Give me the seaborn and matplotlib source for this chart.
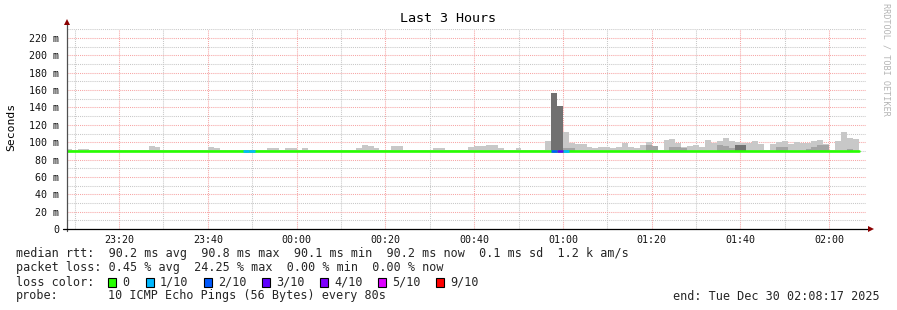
import numpy as np
import pandas as pd
import matplotlib
matplotlib.use("Agg")
import matplotlib.pyplot as plt
import matplotlib.dates as mdates
from matplotlib.ticker import FixedLocator, FuncFormatter
from matplotlib.patches import Rectangle
import seaborn as sns

# ---------------- data ----------------
bin_start = "2025-12-29 23:08:00"
step_seconds = 80
view_start = "2025-12-29 23:08:17"
view_end = "2025-12-30 02:08:17"
smoke_floor = 90.0  # ms

# light smoke top (max of pings) per 80 s bin, ms
smoke_max = [
    92.5, 90.8, 92.7, 92.7, 90.8, 90.8, 90.8, 90.8, 90.8, 90.8,
    90.8, 90.8, 90.8, 90.8, 95.6, 94.5, 90.8, 90.8, 90.8, 90.8,
    90.8, 90.8, 90.8, 90.8, 94.5, 93.0, 90.8, 90.8, 90.8, 90.8,
    90.8, 90.8, 90.8, 90.8, 93.0, 93.0, 90.8, 93.0, 93.0, 90.8,
    93.0, 90.8, 90.8, 90.8, 90.8, 90.8, 90.8, 90.8, 90.8, 93.0,
    96.8, 95.6, 93.0, 90.8, 90.8, 95.6, 95.6, 90.8, 90.8, 90.8,
    90.8, 90.8, 93.0, 93.0, 90.8, 90.8, 90.8, 90.8, 94.5, 95.6,
    95.6, 97.0, 97.0, 93.0, 90.8, 90.8, 93.0, 90.8, 90.8, 90.8,
    90.8, 101.4, 156.7, 141.7, 111.8, 99.0, 97.6, 97.6, 94.5, 93.0,
    94.5, 94.5, 93.0, 94.5, 99.0, 94.5, 93.0, 96.8, 100.0, 95.6,
    90.8, 102.5, 103.7, 99.0, 94.5, 96.0, 97.0, 94.5, 102.5, 99.0,
    101.0, 104.8, 101.0, 100.0, 99.0, 99.0, 101.0, 97.6, 90.8, 97.6,
    100.0, 101.0, 97.6, 100.0, 99.0, 99.0, 101.0, 102.5, 97.6, 90.8,
    101.0, 111.8, 104.8, 103.7,
]

# medium smoke top, ms (None = no medium smoke)
smoke_mid = [
    None, None, None, None, None, None, None, None, None, None,
    None, None, None, None, None, None, None, None, None, None,
    None, None, None, None, None, None, None, None, None, None,
    None, None, None, None, None, None, None, None, None, None,
    None, None, None, None, None, None, None, None, None, None,
    None, None, None, None, None, None, None, None, None, None,
    None, None, None, None, None, None, None, None, None, None,
    None, None, None, None, None, None, None, None, None, None,
    None, None, None, None, 93.0, 93.0, None, None, None, None,
    None, None, None, None, None, None, None, None, 96.8, 95.6,
    None, None, 94.0, 94.5, 93.0, None, None, None, None, None,
    96.5, 95.6, 93.0, None, None, None, None, None, None, None,
    94.0, 94.0, None, None, None, 92.5, 94.0, 96.5, 96.5, None,
    None, None, 92.5, None,
]

# dark smoke top, ms
smoke_dark = [
    None, None, None, None, None, None, None, None, None, None,
    None, None, None, None, None, None, None, None, None, None,
    None, None, None, None, None, None, None, None, None, None,
    None, None, None, None, None, None, None, None, None, None,
    None, None, None, None, None, None, None, None, None, None,
    None, None, None, None, None, None, None, None, None, None,
    None, None, None, None, None, None, None, None, None, None,
    None, None, None, None, None, None, None, None, None, None,
    None, None, 156.7, 141.7, None, None, None, None, None, None,
    None, None, None, None, None, None, None, None, None, None,
    None, None, None, None, None, None, None, None, None, None,
    None, None, None, 96.4, 96.4, None, None, None, None, None,
    None, None, None, None, None, None, None, None, None, None,
    None, None, None, None,
]

median_ms = [
    90.2, 90.2, 90.2, 90.2, 90.2, 90.2, 90.2, 90.2, 90.2, 90.2,
    90.2, 90.2, 90.2, 90.2, 90.2, 90.2, 90.2, 90.2, 90.2, 90.2,
    90.2, 90.2, 90.2, 90.2, 90.2, 90.2, 90.2, 90.2, 90.2, 90.2,
    90.2, 90.2, 90.2, 90.2, 90.2, 90.2, 90.2, 90.2, 90.2, 90.2,
    90.2, 90.2, 90.2, 90.2, 90.2, 90.2, 90.2, 90.2, 90.2, 90.2,
    90.2, 90.2, 90.2, 90.2, 90.2, 90.2, 90.2, 90.2, 90.2, 90.2,
    90.2, 90.2, 90.2, 90.2, 90.2, 90.2, 90.2, 90.2, 90.2, 90.2,
    90.2, 90.2, 90.2, 90.2, 90.2, 90.2, 90.2, 90.2, 90.2, 90.2,
    90.2, 90.2, 90.2, 90.2, 90.2, 90.2, 90.2, 90.2, 90.2, 90.2,
    90.2, 90.2, 90.2, 90.2, 90.2, 90.2, 90.2, 90.2, 90.2, 90.2,
    90.2, 90.2, 90.2, 90.2, 90.2, 90.2, 90.2, 90.2, 90.2, 90.2,
    90.2, 90.2, 90.2, 90.2, 90.2, 90.2, 90.2, 90.2, 90.2, 90.2,
    90.2, 90.2, 90.2, 90.2, 90.2, 90.2, 90.2, 90.2, 90.2, 90.2,
    90.2, 90.2, 90.2, 90.2,
]

loss_tenths = [
    0, 0, 0, 0, 0, 0, 0, 0, 0, 0,
    0, 0, 0, 0, 0, 0, 0, 0, 0, 0,
    0, 0, 0, 0, 0, 0, 0, 0, 0, 0,
    1, 1, 0, 0, 0, 0, 0, 0, 0, 0,
    0, 0, 0, 0, 0, 0, 0, 0, 0, 0,
    0, 0, 0, 0, 0, 0, 0, 0, 0, 0,
    0, 0, 0, 0, 0, 0, 0, 0, 0, 0,
    0, 0, 0, 0, 0, 0, 0, 0, 0, 0,
    0, 0, 2, 3, 1, 0, 0, 0, 0, 0,
    0, 0, 0, 0, 0, 0, 0, 0, 0, 0,
    0, 0, 0, 0, 0, 0, 0, 0, 0, 0,
    0, 0, 0, 0, 0, 0, 0, 0, 0, 0,
    0, 0, 0, 0, 0, 0, 0, 0, 0, 0,
    0, 0, 0, 0,
]

loss_keys = [0, 1, 2, 3, 4, 5, 9]
loss_labels = ["0", "1/10", "2/10", "3/10", "4/10", "5/10", "9/10"]
loss_colors = ["#26ff00", "#00b8ff", "#0059ff", "#5e00ff", "#7e00ff", "#dd00ff", "#ff0000"]
y_major = [0, 20, 40, 60, 80, 100, 120, 140, 160, 180, 200, 220]
y_minor = [10, 30, 50, 70, 90, 110, 130, 150, 170, 190, 210, 230]

title = "Last 3 Hours"
y_label = "Seconds"
watermark = "RRDTOOL / TOBI OETIKER"
stat_rows = [
    "median rtt:  90.2 ms avg  90.8 ms max  90.1 ms min  90.2 ms now  0.1 ms sd  1.2 k am/s",
    "packet loss: 0.45 % avg  24.25 % max  0.00 % min  0.00 % now",
]
loss_title = "loss color:"
probe_label = "probe:"
probe_text = "10 ICMP Echo Pings (56 Bytes) every 80s"
end_text = "end: Tue Dec 30 02:08:17 2025"

# ---------------- style ----------------
sns.set_theme(style="white")
plt.rcParams["font.family"] = ["DejaVu Sans Mono"]
plt.rcParams["axes.linewidth"] = 0.8

W, H = 897, 310
fig = plt.figure(figsize=(W / 100, H / 100), dpi=100, facecolor="white")

ax_left, ax_right, ax_bottom_px, ax_top_px = 67, 866, 229, 28.5
ax = fig.add_axes([ax_left / W, 1 - ax_bottom_px / H,
                   (ax_right - ax_left) / W, (ax_bottom_px - ax_top_px) / H])
ax.set_facecolor("white")

times = pd.date_range(bin_start, periods=len(smoke_max), freq=f"{step_seconds}s")
x = mdates.date2num(times.to_pydatetime())
width = step_seconds / 86400.0

smax = np.array(smoke_max, dtype=float)
smid = np.array(smoke_mid, dtype=float)
sdark = np.array(smoke_dark, dtype=float)
med = np.array(median_ms, dtype=float)
loss = np.array(loss_tenths)

ax.bar(x, smax - smoke_floor, bottom=smoke_floor, width=width, align="edge",
       color="#c8c8c8", linewidth=0, zorder=3)
ax.bar(x, smid - smoke_floor, bottom=smoke_floor, width=width, align="edge",
       color="#a4a4a4", linewidth=0, zorder=3.1)
ax.bar(x, sdark - smoke_floor, bottom=smoke_floor, width=width, align="edge",
       color="#717171", linewidth=0, zorder=3.2)

# median line (steps)
step_df = pd.DataFrame({"t": np.append(x, x[-1] + width), "rtt": np.append(med, med[-1])})
sns.lineplot(data=step_df, x="t", y="rtt", drawstyle="steps-post", color=loss_colors[0],
             linewidth=1.9, ax=ax, zorder=4, estimator=None)
for k, c in zip(loss_keys[1:], loss_colors[1:]):
    sel = loss == k
    if sel.any():
        ax.hlines(med[sel], x[sel], x[sel] + width, colors=c, linewidth=1.9,
                  zorder=5, capstyle="butt")

# axes limits and ticks
ax.set_xlim(mdates.date2num(pd.Timestamp(view_start)), mdates.date2num(pd.Timestamp(view_end)))
ax.set_ylim(0, 231)
ax.xaxis.set_major_locator(mdates.MinuteLocator(byminute=[0, 20, 40]))
ax.xaxis.set_minor_locator(mdates.MinuteLocator(byminute=[10, 30, 50]))
ax.xaxis.set_major_formatter(mdates.DateFormatter("%H:%M"))
ax.yaxis.set_major_locator(FixedLocator(y_major))
ax.yaxis.set_minor_locator(FixedLocator(y_minor))
ax.yaxis.set_major_formatter(FuncFormatter(lambda v, p: "0" if v == 0 else f"{int(v)} m"))

grid_dash = (0, (1, 1))
ax.grid(which="major", axis="both", color="#f7a5a5", linestyle=grid_dash, linewidth=0.75)
ax.grid(which="minor", axis="both", color="#c8c8c8", linestyle=grid_dash, linewidth=0.75)
ax.set_axisbelow(True)

ax.tick_params(axis="x", which="both", direction="out", length=2, width=0.6,
               color="#444444", labelsize=7.2, pad=2.5, labelcolor="#111111")
ax.tick_params(axis="y", which="both", direction="out", length=2.2, width=0.6,
               color="#444444", labelsize=7.2, pad=3.5, labelcolor="#111111")

for s in ["top", "right", "left", "bottom"]:
    ax.spines[s].set_visible(False)
ax.set_xlabel("")
ax.set_ylabel("")

# axis lines with arrows
ax.plot([0, 0], [-0.012, 1.03], transform=ax.transAxes, color="#505050",
        linewidth=0.9, clip_on=False, zorder=6)
ax.plot([-0.005, 1.003], [0, 0], transform=ax.transAxes, color="#000000",
        linewidth=0.9, clip_on=False, zorder=6)
ax.plot([0], [1.034], marker="^", markersize=4.5, color="#8b0000",
        transform=ax.transAxes, clip_on=False, zorder=7, markeredgewidth=0)
ax.plot([1.0065], [0], marker=">", markersize=4.5, color="#8b0000",
        transform=ax.transAxes, clip_on=False, zorder=7, markeredgewidth=0)

# ---------------- texts ----------------
def fx(px):
    return px / W


def fy(py):
    return 1 - py / H


fig.text(fx(448), fy(19), title, ha="center", va="center", fontsize=9.6, color="#000000")
fig.text(fx(11), fy(127), y_label, ha="center", va="center", rotation=90,
         fontsize=8.2, color="#000000")
fig.text(fx(886), fy(59), watermark, ha="center", va="center", rotation=-90,
         fontsize=6.1, color="#b4b4b4")

legend_fs = 8.5
fig.text(fx(16), fy(254), stat_rows[0], ha="left", va="center", fontsize=legend_fs)
fig.text(fx(16), fy(268), stat_rows[1], ha="left", va="center", fontsize=legend_fs)
fig.text(fx(16), fy(282), loss_title, ha="left", va="center", fontsize=legend_fs)

square_x = [108, 146, 204, 262, 320, 378, 436]
label_x = [122, 160, 218, 276, 334, 392, 450]
for sxp, lxp, col, lab in zip(square_x, label_x, loss_colors, loss_labels):
    fig.add_artist(Rectangle((fx(sxp), fy(286.5)), 8 / W, 9 / H, transform=fig.transFigure,
                             facecolor=col, edgecolor="#000000", linewidth=0.8))
    fig.text(fx(lxp), fy(282), lab, ha="left", va="center", fontsize=legend_fs)

fig.text(fx(16), fy(296), probe_label, ha="left", va="center", fontsize=legend_fs)
fig.text(fx(108), fy(296), probe_text, ha="left", va="center", fontsize=legend_fs)
fig.text(fx(880), fy(296), end_text, ha="right", va="center", fontsize=legend_fs)

fig.savefig("out.png", dpi=100, facecolor="white")
